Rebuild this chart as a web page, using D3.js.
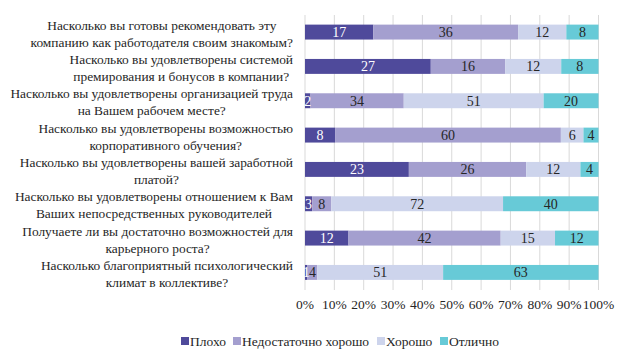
<!DOCTYPE html>
<html>
<head>
<meta charset="utf-8">
<script src="https://cdn.jsdelivr.net/npm/d3@7"></script>
<style>
  body { margin: 0; background: #fff; }
</style>
</head>
<body>
<svg id="chart"></svg>
<script>
// Questions (each split into the two lines shown on the chart)
const questions = [
    ["Насколько вы готовы рекомендовать эту", "компанию как работодателя своим знакомым?"],
    ["Насколько вы удовлетворены системой", "премирования и бонусов в компании?"],
    ["Насколько вы удовлетворены организацией труда", "на Вашем рабочем месте?"],
    ["Насколько вы удовлетворены возможностью", "корпоративного обучения?"],
    ["Насколько вы удовлетворены вашей заработной", "платой?"],
    ["Насколько вы удовлетворены отношением к Вам", "Ваших непосредственных руководителей"],
    ["Получаете ли вы достаточно возможностей для", "карьерного роста?"],
    ["Насколько благоприятный психологический", "климат в коллективе?"]
];

const seriesNames = ["Плохо", "Недостаточно хорошо", "Хорошо", "Отлично"];

// Answer counts per question
const bad       = [17, 27, 2, 8, 23, 3, 12, 1];
const notGood   = [36, 16, 34, 60, 26, 8, 42, 4];
const good      = [12, 12, 51, 6, 12, 72, 15, 51];
const excellent = [8, 8, 20, 4, 4, 40, 12, 63];

const tickLabels = ["0%", "10%", "20%", "30%", "40%", "50%", "60%", "70%", "80%", "90%", "100%"];

const colors = ["#4f4a9b", "#a49fcf", "#cdd4ec", "#67cad7"];
const labelColors = ["#ffffff", "#262626", "#262626", "#262626"];

const FONT = "'Liberation Serif', 'Times New Roman', serif";

const width = 628, height = 354;
const margin = { top: 15, right: 30, bottom: 64, left: 305 };

const svg = d3.select("#chart")
    .attr("width", width)
    .attr("height", height)
    .style("font-family", FONT);

// Build rows and normalise to shares
const rows = questions.map((q, i) => {
    const vals = [bad[i], notGood[i], good[i], excellent[i]];
    const total = d3.sum(vals);
    let acc = 0;
    const segs = vals.map((v, k) => {
        const s = { k, v, x0: acc / total, x1: (acc + v) / total };
        acc += v;
        return s;
    });
    return { i, q, segs };
});

const x = d3.scaleLinear()
    .domain([0, 1])
    .range([margin.left, width - margin.right + 0.5]);

const y = d3.scaleBand()
    .domain(d3.range(questions.length))
    .range([margin.top, height - margin.bottom - 0.5])
    .paddingInner(0.565)
    .paddingOuter(0.28);

// Gridlines
svg.append("g")
    .selectAll("line")
    .data(d3.range(11))
    .enter()
    .append("line")
    .attr("x1", d => x(d / 10))
    .attr("x2", d => x(d / 10))
    .attr("y1", margin.top)
    .attr("y2", height - margin.bottom)
    .attr("stroke", "#d9d9d9")
    .attr("stroke-width", 1);

// Tick labels
svg.append("g")
    .selectAll("text")
    .data(tickLabels)
    .enter()
    .append("text")
    .attr("x", (d, i) => x(i / 10))
    .attr("y", 309)
    .attr("text-anchor", "middle")
    .attr("font-size", 13.5)
    .attr("fill", "#262626")
    .text(d => d);

// Bars
const rowG = svg.append("g")
    .selectAll("g")
    .data(rows)
    .enter()
    .append("g");

rowG.selectAll("rect")
    .data(d => d.segs.map(s => ({ ...s, row: d.i })))
    .enter()
    .append("rect")
    .attr("x", d => x(d.x0))
    .attr("width", d => x(d.x1) - x(d.x0))
    .attr("y", d => y(d.row))
    .attr("height", y.bandwidth())
    .attr("fill", d => colors[d.k]);

rowG.selectAll("text")
    .data(d => d.segs.map(s => ({ ...s, row: d.i })))
    .enter()
    .append("text")
    .attr("x", d => (x(d.x0) + x(d.x1)) / 2)
    .attr("y", d => y(d.row) + y.bandwidth() / 2 + 4.8)
    .attr("text-anchor", "middle")
    .attr("font-size", 14)
    .attr("fill", d => labelColors[d.k])
    .text(d => d.v);

// Category labels (lines centred on each other, block right aligned)
const catG = svg.append("g");
rows.forEach(r => {
    const g = catG.append("g");
    const cy = y(r.i) + y.bandwidth() / 2 + 1.5;
    const texts = r.q.map((line, j) => g.append("text")
        .attr("y", cy + (j - 0.5) * 17 + 4.6)
        .attr("text-anchor", "middle")
        .attr("font-size", 13.4)
        .attr("fill", "#262626")
        .text(line));
    const maxW = d3.max(texts, t => t.node().getComputedTextLength());
    texts.forEach(t => t.attr("x", 293 - maxW / 2));
});

// Legend
const legend = svg.append("g").attr("transform", "translate(0, 341)");
const legendX = [181, 233, 377, 440];
seriesNames.forEach((name, k) => {
    legend.append("rect")
        .attr("x", legendX[k])
        .attr("y", -4)
        .attr("width", 8)
        .attr("height", 8)
        .attr("fill", colors[k]);
    legend.append("text")
        .attr("x", legendX[k] + 9)
        .attr("y", 4.5)
        .attr("font-size", 13.5)
        .attr("fill", "#262626")
        .text(name);
});
</script>
</body>
</html>
